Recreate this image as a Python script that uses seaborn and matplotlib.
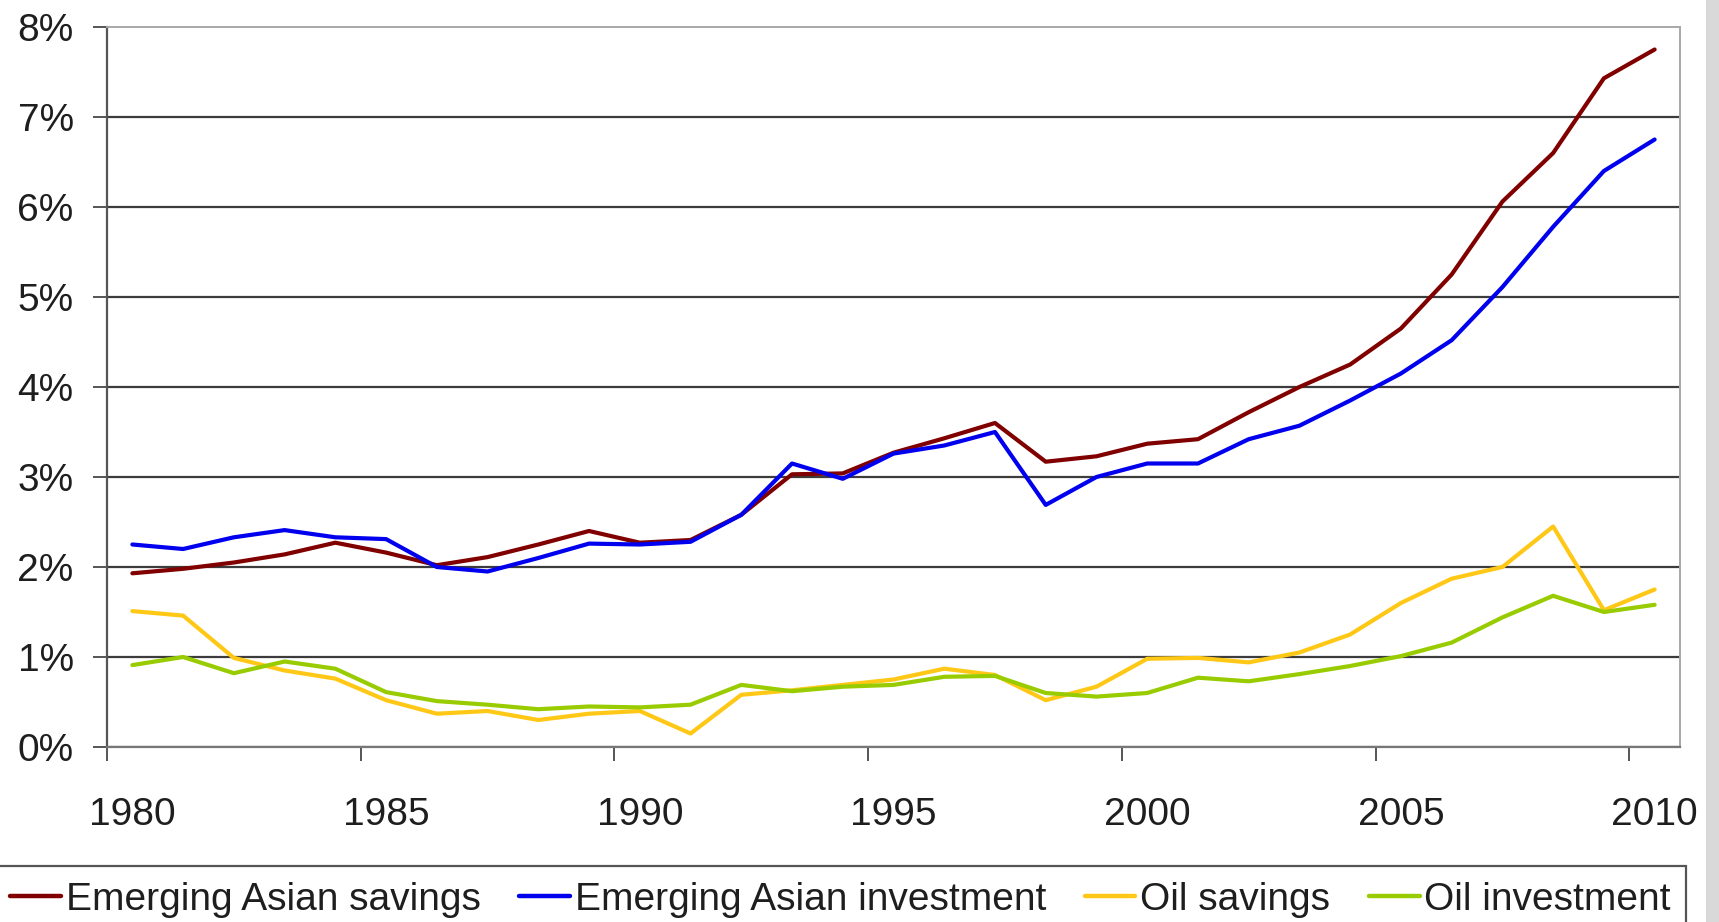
import numpy as np
import pandas as pd
import matplotlib
matplotlib.use("Agg")
import matplotlib.pyplot as plt
from matplotlib.patches import Rectangle
import seaborn as sns

# Share of world GDP, in percent
years = list(range(1980, 2011))
asia_savings = [1.93, 1.98, 2.05, 2.14, 2.27, 2.16, 2.02, 2.11, 2.25, 2.40,
                2.27, 2.30, 2.58, 3.03, 3.04, 3.27, 3.43, 3.60, 3.17, 3.23,
                3.37, 3.42, 3.72, 4.00, 4.25, 4.65, 5.25, 6.06, 6.60, 7.43, 7.75]
asia_investment = [2.25, 2.20, 2.33, 2.41, 2.33, 2.31, 2.00, 1.95, 2.10, 2.26,
                   2.25, 2.28, 2.58, 3.15, 2.98, 3.26, 3.35, 3.50, 2.69, 3.00,
                   3.15, 3.15, 3.42, 3.57, 3.85, 4.15, 4.52, 5.11, 5.78, 6.40, 6.75]
oil_savings = [1.51, 1.46, 0.99, 0.85, 0.76, 0.52, 0.37, 0.40, 0.30, 0.37,
               0.40, 0.15, 0.58, 0.63, 0.69, 0.75, 0.87, 0.80, 0.52, 0.67,
               0.98, 0.99, 0.94, 1.05, 1.25, 1.60, 1.87, 2.00, 2.45, 1.52, 1.75]
oil_investment = [0.91, 1.00, 0.82, 0.95, 0.87, 0.61, 0.51, 0.47, 0.42, 0.45,
                  0.44, 0.47, 0.69, 0.62, 0.67, 0.69, 0.78, 0.79, 0.60, 0.56,
                  0.60, 0.77, 0.73, 0.81, 0.90, 1.01, 1.16, 1.44, 1.68, 1.50, 1.58]

series_names = ["Emerging Asian savings", "Emerging Asian investment",
                "Oil savings", "Oil investment"]
series_colors = ["#800000", "#0000ee", "#ffc816", "#99cc00"]
x_tick_labels = ["1980", "1985", "1990", "1995", "2000", "2005", "2010"]
y_tick_labels = ["0%", "1%", "2%", "3%", "4%", "5%", "6%", "7%", "8%"]

df = pd.DataFrame({
    "year": years * 4,
    "value": asia_savings + asia_investment + oil_savings + oil_investment,
    "series": sum([[n] * len(years) for n in series_names], []),
})

sns.set_theme(style="white")
plt.rcParams["font.family"] = ["Liberation Sans", "DejaVu Sans"]

fig = plt.figure(figsize=(17.19, 9.22), dpi=100)
ax = fig.add_axes([107 / 1719, 1 - 747 / 922, (1680 - 107) / 1719, (747 - 27) / 922])

sns.lineplot(data=df, x="year", y="value", hue="series", hue_order=series_names,
             palette=series_colors, linewidth=3.0, ax=ax, legend=True, zorder=3)

ax.set_xlim(1979.5, 2010.5)
ax.set_ylim(0, 8)
ax.set_xlabel("")
ax.set_ylabel("")

# y axis: percent ticks with horizontal grid
ax.set_yticks(range(0, 9), labels=y_tick_labels)
ax.yaxis.grid(True, color="#3c3c3c", linewidth=1.6)
ax.xaxis.grid(False)
ax.set_axisbelow(True)
ax.get_ygridlines()[-1].set_visible(False)
ax.tick_params(axis="y", which="major", direction="out", length=10, width=1.4,
               color="#555555", pad=14, labelsize=28, labelcolor="#1e1e1e", left=True)

# x axis: tick marks between categories, labels on the years
ax.set_xticks(np.arange(1979.5, 2010, 5))
ax.tick_params(axis="x", which="major", direction="out", length=10, width=1.4,
               color="#555555", labelbottom=False, bottom=True)
ax.set_xticks([int(t) for t in x_tick_labels], labels=x_tick_labels, minor=True)
ax.tick_params(axis="x", which="minor", length=0, pad=36, labelsize=28,
               labelcolor="#1e1e1e")

for side in ["top", "right"]:
    ax.spines[side].set_color("#a8a8a8")
    ax.spines[side].set_linewidth(1.4)
ax.spines["left"].set_color("#555555")
ax.spines["left"].set_linewidth(1.6)
ax.spines["bottom"].set_color("#777777")
ax.spines["bottom"].set_linewidth(1.6)

handles, labels = ax.get_legend_handles_labels()
ax.get_legend().remove()
for h in handles:
    h.set_linewidth(3.2)
leg = fig.legend(handles, labels, loc="upper left", ncol=4,
                 bbox_to_anchor=(-0.003, 1 - 866 / 922), bbox_transform=fig.transFigure,
                 borderaxespad=0, fontsize=28, handlelength=1.3, handletextpad=0.12,
                 columnspacing=1.0, borderpad=0.4, frameon=True, fancybox=False)
leg.get_frame().set_edgecolor("#2a2a2a")
leg.get_frame().set_linewidth(1.6)
for t in leg.get_texts():
    t.set_color("#1e1e1e")

# light grey strip along the right border
fig.patches.append(Rectangle((1706 / 1719, 0), 1 - 1706 / 1719, 1,
                             transform=fig.transFigure, facecolor="#d9d9d9",
                             edgecolor="none", zorder=0))

fig.savefig("out.png", dpi=100)
